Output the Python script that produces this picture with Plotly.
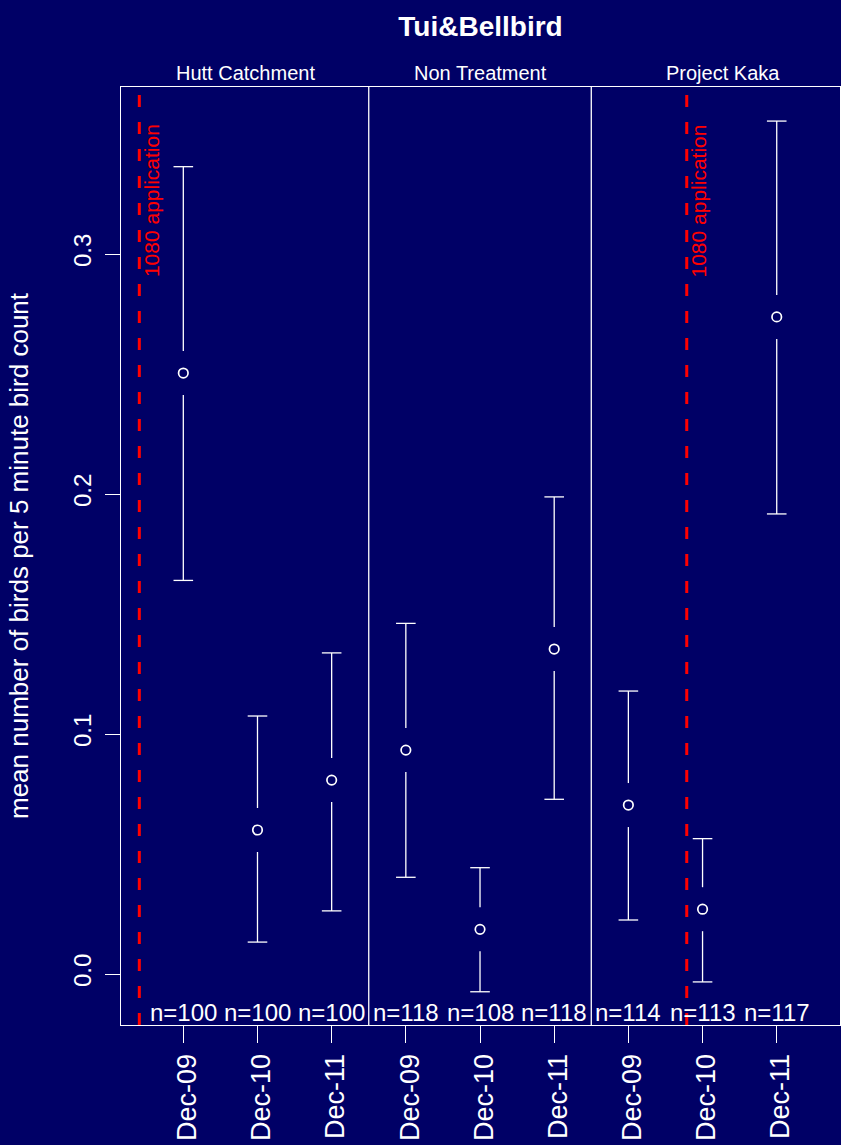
import plotly.graph_objects as go

# Survey groups and years
sites = ["Hutt Catchment", "Non Treatment", "Project Kaka"]
years = ["Dec-09", "Dec-10", "Dec-11"]

# Mean birds per 5-minute count with confidence limits, site-major order
means = [0.2504, 0.0600, 0.0808, 0.0933, 0.0186, 0.1354, 0.0704, 0.0270, 0.2738]
upper = [0.3364, 0.1075, 0.1338, 0.1461, 0.0443, 0.1988, 0.1179, 0.0564, 0.3554]
lower = [0.1640, 0.0133, 0.0263, 0.0403, -0.0074, 0.0728, 0.0225, -0.0033, 0.1917]
counts = [100, 100, 100, 118, 108, 118, 114, 113, 117]

# Positions of the 1080 drop markers on the x scale
drops = [0.407, 7.787]
drop_label = "1080 application"

BG = "#000066"
FG = "white"
FONT = "Liberation Sans, Arial, sans-serif"

W, H = 841, 1145
ML, MR, MT, MB = 121, 1, 87, 120
XR = [0.16, 9.853]
YR = [-0.02125, 0.3696]

xs = list(range(1, len(means) + 1))
ticktext = [y for _ in sites for y in years]

# gap left around each point, converted from pixels to data units
plot_h = H - MT - MB
gap = 22 * (YR[1] - YR[0]) / plot_h

seg_x, seg_y = [], []
for x, m, lo, hi in zip(xs, means, lower, upper):
    seg_x += [x, x, None, x, x, None]
    seg_y += [lo, m - gap, None, m + gap, hi, None]

fig = go.Figure()
fig.add_trace(go.Scatter(x=seg_x, y=seg_y, mode="lines",
                         line=dict(color=FG, width=1.3),
                         hoverinfo="skip", showlegend=False))
fig.add_trace(go.Scatter(x=xs + xs, y=upper + lower, mode="markers",
                         marker=dict(symbol="line-ew", size=14,
                                     line=dict(color=FG, width=1.3)),
                         hoverinfo="skip", showlegend=False))
fig.add_trace(go.Scatter(x=xs, y=means, mode="markers",
                         marker=dict(symbol="circle-open", size=9.5, color=FG,
                                     line=dict(color=FG, width=1.7)),
                         showlegend=False))

# panel dividers between the three sites
for k in range(1, len(sites)):
    b = k * len(years) + 0.5
    fig.add_shape(type="line", xref="x", yref="paper", x0=b, x1=b, y0=0, y1=1,
                  line=dict(color=FG, width=1.3))

# dashed red 1080 drop lines with vertical labels
for d in drops:
    fig.add_shape(type="line", xref="x", yref="paper", x0=d, x1=d, y0=0, y1=1,
                  line=dict(color="#ff0000", width=3, dash="12px,15px"), layer="above")
    fig.add_annotation(x=d, y=0.3222, xref="x", yref="y", text=drop_label,
                       textangle=-90, showarrow=False, xanchor="center",
                       yanchor="middle", xshift=12,
                       font=dict(color="#ff0000", size=21, family=FONT))

# sample sizes along the bottom of each column
for x, n in zip(xs, counts):
    fig.add_annotation(x=x, y=0, xref="x", yref="paper", text=f"n={n}",
                       showarrow=False, xanchor="center", yanchor="bottom",
                       yshift=-3, font=dict(color=FG, size=24, family=FONT))

# site names above each panel
strip_x = [1.835, 5.0, 8.27]
for s, sx in zip(sites, strip_x):
    fig.add_annotation(x=sx, y=1, xref="x", yref="paper", text=s,
                       showarrow=False, xanchor="center", yanchor="bottom",
                       yshift=1, font=dict(color=FG, size=20, family=FONT))

# y-axis title
fig.add_annotation(x=(19 - ML) / (W - ML - MR), y=0.5, xref="paper", yref="paper",
                   text="mean number of birds per 5 minute bird count",
                   textangle=-90, showarrow=False, xanchor="center", yanchor="middle",
                   font=dict(color=FG, size=26, family=FONT))

fig.update_layout(
    width=W, height=H, autosize=False,
    margin=dict(l=ML, r=MR, t=MT, b=MB),
    paper_bgcolor=BG, plot_bgcolor=BG,
    font=dict(family=FONT, color=FG),
    title=dict(text="<b>Tui&Bellbird</b>", x=(ML + (W - ML - MR) / 2) / W,
               xanchor="center", y=1 - 26 / H, yanchor="middle",
               font=dict(size=28, color=FG, family=FONT)),
    xaxis=dict(range=XR, tickmode="array", tickvals=xs, ticktext=ticktext,
               tickangle=-90, ticks="outside", ticklen=17, tickwidth=1.3,
               tickcolor=FG, showline=True, mirror=True, linecolor=FG,
               linewidth=1.3, showgrid=False, zeroline=False,
               ticklabelshift=4,
               tickfont=dict(size=27, color=FG, family=FONT)),
    yaxis=dict(range=YR, tickmode="array", tickvals=[0, 0.1, 0.2, 0.3],
               ticktext=["0.0", "0.1", "0.2", "0.3"], tickangle=-90,
               ticks="outside", ticklen=15, tickwidth=1.3, tickcolor=FG,
               showline=True, mirror=True, linecolor=FG, linewidth=1.3,
               showgrid=False, zeroline=False, ticklabelstandoff=4,
               tickfont=dict(size=24, color=FG, family=FONT)),
)

fig.write_html("out.html")
